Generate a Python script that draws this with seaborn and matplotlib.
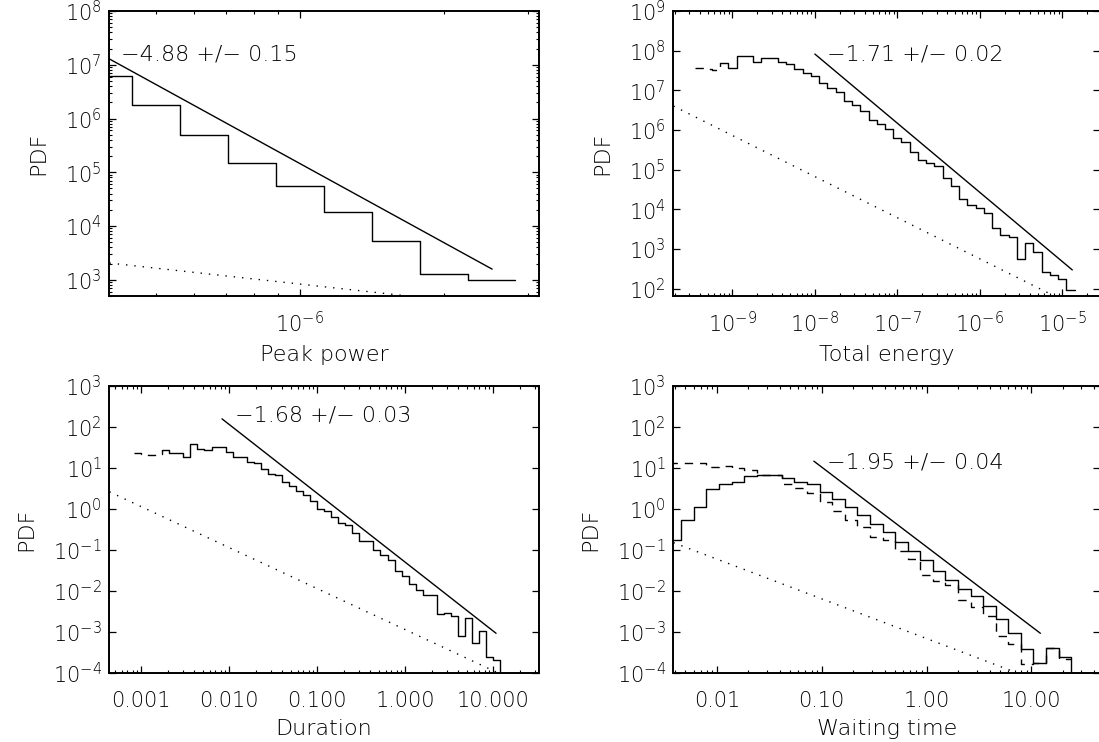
import numpy as np
import matplotlib
matplotlib.use("Agg")
import matplotlib.pyplot as plt
import matplotlib.ticker as mticker
import seaborn as sns

# ====================== data (log10 of bin edges / PDF values) ======================
# Peak power
peak_edges_log = [-6.45, -6.35, -6.25, -6.15, -6.05, -5.95, -5.85, -5.75, -5.65, -5.55]
peak_log_pdf = [6.79, 6.26, 5.69, 5.18, 4.745, 4.27, 3.73, 3.10, 3.0]
peak_fit_x = [4.0e-7, 2.52e-6]
peak_fit_y = [1.28e7, 1.58e3]
peak_ref_x = [4.0e-7, 1.75e-6]
peak_ref_y = [2.05e3, 4.8e2]

# Total energy (first 3 bins dashed)
energy_edges_log = [-9.45, -9.35, -9.25, -9.15, -9.05, -8.95, -8.85, -8.75, -8.65, -8.55,
                    -8.45, -8.35, -8.25, -8.15, -8.05, -7.95, -7.85, -7.75, -7.65, -7.55,
                    -7.45, -7.35, -7.25, -7.15, -7.05, -6.95, -6.85, -6.75, -6.65, -6.55,
                    -6.45, -6.35, -6.25, -6.15, -6.05, -5.95, -5.85, -5.75, -5.65, -5.55,
                    -5.45, -5.35, -5.25, -5.15, -5.05, -4.95, -4.85]
energy_log_pdf_low = [7.57, 7.53, 7.50]
energy_log_pdf = [7.68, 7.57, 7.87, 7.87, 7.72, 7.82, 7.81, 7.71, 7.66, 7.53,
                  7.43, 7.37, 7.18, 7.07, 6.95, 6.73, 6.63, 6.49, 6.25, 6.14,
                  6.03, 5.79, 5.69, 5.45, 5.24, 5.16, 5.08, 4.80, 4.59, 4.27,
                  4.11, 4.04, 3.90, 3.52, 3.34, 3.31, 2.74, 3.15, 2.93, 2.43,
                  2.35, 2.24, 1.97]
energy_fit_x = [1.0e-8, 1.32e-5]
energy_fit_y = [8.2e7, 2.95e2]
energy_ref_x = [1.93e-10, 1.0e-5]
energy_ref_y = [4.0e6, 51.5]

# Duration (first 4 bins dashed)
dur_edges_log = [-3.08, -3.00, -2.92, -2.84, -2.76, -2.68, -2.60, -2.52, -2.44, -2.36,
                 -2.28, -2.20, -2.12, -2.04, -1.96, -1.88, -1.80, -1.72, -1.64, -1.56,
                 -1.48, -1.40, -1.32, -1.24, -1.16, -1.08, -1.00, -0.92, -0.84, -0.76,
                 -0.68, -0.60, -0.52, -0.44, -0.36, -0.28, -0.20, -0.12, -0.04, 0.04,
                 0.12, 0.20, 0.28, 0.36, 0.44, 0.52, 0.60, 0.68, 0.76, 0.84,
                 0.92, 1.00, 1.08]
dur_log_pdf_low = [1.36, 1.34, 1.32, 1.35]
dur_log_pdf = [1.43, 1.37, 1.36, 1.26, 1.59, 1.47, 1.43, 1.51, 1.51, 1.39,
               1.28, 1.27, 1.15, 1.13, 0.98, 0.86, 0.83, 0.66, 0.56, 0.43,
               0.33, 0.19, 0.00, -0.055, -0.19, -0.34, -0.40, -0.58, -0.79, -0.79,
               -0.99, -1.12, -1.24, -1.52, -1.63, -1.83, -1.97, -2.09, -2.09, -2.57,
               -2.53, -2.60, -3.10, -2.66, -3.28, -2.98, -3.60, -3.68]
dur_fit_x = [8.3e-3, 10.8]
dur_fit_y = [158.0, 9.3e-4]
dur_ref_x = [4.37e-4, 12.6]
dur_ref_y = [2.62, 9.1e-5]

# Waiting time (solid and dashed histograms)
wait_edges_log = [-2.46, -2.34, -2.22, -2.10, -1.98, -1.86, -1.74, -1.62, -1.50, -1.38,
                  -1.26, -1.14, -1.02, -0.90, -0.78, -0.66, -0.54, -0.42, -0.30, -0.18,
                  -0.06, 0.06, 0.18, 0.30, 0.42, 0.54, 0.66, 0.78, 0.90, 1.02,
                  1.14, 1.26, 1.38]
wait_log_pdf = [-0.75, -0.28, 0.05, 0.49, 0.62, 0.66, 0.80, 0.83, 0.83, 0.75,
                0.66, 0.60, 0.41, 0.25, 0.05, -0.14, -0.36, -0.55, -0.81, -1.03,
                -1.25, -1.51, -1.74, -1.95, -2.12, -2.36, -2.68, -3.03, -3.42, -3.75,
                -3.38, -3.60]
wait_log_pdf_alt = [1.11, 1.11, 1.13, 1.03, 1.05, 1.01, 0.94, 0.84, 0.84, 0.62,
                    0.50, 0.40, 0.18, -0.05, -0.27, -0.44, -0.68, -0.75, -1.03, -1.22,
                    -1.60, -1.76, -1.85, -2.21, -2.40, -2.60, -3.10, -3.30, -3.79, -3.75,
                    -3.40, -3.67]
wait_fit_x = [0.0841, 12.2]
wait_fit_y = [14.7, 9.3e-4]
wait_ref_x = [3.85e-3, 7.94]
wait_ref_y = [0.151, 9.3e-5]

slope_texts = ["\u22124.88 +/\u2212 0.15", "\u22121.71 +/\u2212 0.02",
               "\u22121.68 +/\u2212 0.03", "\u22121.95 +/\u2212 0.04"]
x_titles = ["Peak power", "Total energy", "Duration", "Waiting time"]


def step_xy(edges_log, log_vals, next_val=None, drop=False):
    """build steps-post coordinates of a histogram"""
    x = list(10.0 ** np.asarray(edges_log))
    y = list(10.0 ** np.asarray(log_vals))
    y.append(10.0 ** next_val if next_val is not None else y[-1])
    if drop:
        x.append(x[-1])
        y.append(1e-9)
    return x, y


def line(ax, x, y, ls="-", steps=False):
    kw = dict(drawstyle="steps-post") if steps else {}
    sns.lineplot(x=x, y=y, ax=ax, color="black", linewidth=1.0, linestyle=ls,
                 estimator=None, sort=False, errorbar=None, **kw)


DOT = (0, (1, 5))
DASH = (0, (6, 5))

sns.set_theme(style="ticks")
plt.rcParams.update({
    "font.family": ["DejaVu Sans"],
    "font.weight": "light",
    "axes.labelweight": "light",
    "text.color": "black",
    "mathtext.default": "regular",
    "axes.unicode_minus": True,
    "axes.linewidth": 1.4,
    "axes.edgecolor": "black",
    "axes.labelcolor": "black",
    "xtick.color": "black",
    "ytick.color": "black",
    "xtick.labelcolor": "black",
    "ytick.labelcolor": "black",
    "xtick.direction": "in",
    "ytick.direction": "in",
    "xtick.top": True,
    "ytick.right": True,
    "xtick.major.size": 5,
    "ytick.major.size": 5,
    "xtick.minor.size": 2.5,
    "ytick.minor.size": 2.5,
    "xtick.major.width": 0.9,
    "ytick.major.width": 0.9,
    "xtick.minor.width": 0.8,
    "ytick.minor.width": 0.8,
    "xtick.labelsize": 15,
    "ytick.labelsize": 15,
    "axes.labelsize": 16,
})

fig = plt.figure(figsize=(10.99, 7.42), dpi=100)
ax1 = fig.add_axes([0.0996, 0.6011, 0.3904, 0.3841])
ax2 = fig.add_axes([0.6128, 0.6011, 0.3881, 0.3841])
ax3 = fig.add_axes([0.0996, 0.0930, 0.3904, 0.3868])
ax4 = fig.add_axes([0.6128, 0.0930, 0.3881, 0.3868])

for ax in (ax1, ax2, ax3, ax4):
    ax.set_xscale("log")
    ax.set_yscale("log")

# ---- Peak power ----
line(ax1, *step_xy(peak_edges_log, peak_log_pdf), steps=True)
line(ax1, peak_fit_x, peak_fit_y)
line(ax1, peak_ref_x, peak_ref_y, ls=DOT)
ax1.set_xlim(4.0e-7, 3.15e-6)
ax1.set_ylim(5e2, 1e8)

# ---- Total energy ----
n_low = len(energy_log_pdf_low)
line(ax2, *step_xy(energy_edges_log[:n_low + 1], energy_log_pdf_low,
                   next_val=energy_log_pdf[0]), ls=DASH, steps=True)
line(ax2, *step_xy(energy_edges_log[n_low:], energy_log_pdf), steps=True)
line(ax2, energy_fit_x, energy_fit_y)
line(ax2, energy_ref_x, energy_ref_y, ls=DOT)
ax2.set_xlim(1.93e-10, 2.86e-5)
ax2.set_ylim(65, 1e9)

# ---- Duration ----
n_low = len(dur_log_pdf_low)
line(ax3, *step_xy(dur_edges_log[:n_low + 1], dur_log_pdf_low,
                   next_val=dur_log_pdf[0]), ls=DASH, steps=True)
line(ax3, *step_xy(dur_edges_log[n_low:], dur_log_pdf, drop=True), steps=True)
line(ax3, dur_fit_x, dur_fit_y)
line(ax3, dur_ref_x, dur_ref_y, ls=DOT)
ax3.set_xlim(4.37e-4, 32.8)
ax3.set_ylim(1e-4, 1e3)

# ---- Waiting time ----
line(ax4, *step_xy(wait_edges_log, wait_log_pdf_alt), ls=DASH, steps=True)
line(ax4, *step_xy(wait_edges_log, wait_log_pdf, drop=True), steps=True)
line(ax4, wait_fit_x, wait_fit_y)
line(ax4, wait_ref_x, wait_ref_y, ls=DOT)
ax4.set_xlim(3.85e-3, 45.2)
ax4.set_ylim(1e-4, 1e3)

# ---- axes decoration ----
text_pos = [(0.027, 0.828), (0.36, 0.828), (0.2925, 0.878), (0.36, 0.714)]
for i, ax in enumerate((ax1, ax2, ax3, ax4)):
    ax.xaxis.set_major_locator(mticker.LogLocator(base=10, numticks=30))
    ax.xaxis.set_minor_locator(mticker.LogLocator(base=10, subs=np.arange(2, 10), numticks=30))
    ax.xaxis.set_minor_formatter(mticker.NullFormatter())
    ax.yaxis.set_major_locator(mticker.LogLocator(base=10, numticks=30))
    ax.yaxis.set_minor_formatter(mticker.NullFormatter())
    if ax is ax1:
        ax.yaxis.set_minor_locator(mticker.LogLocator(base=10, subs=np.arange(2, 10), numticks=30))
    else:
        ax.yaxis.set_minor_locator(mticker.NullLocator())
    for side in ("top", "right", "left", "bottom"):
        ax.spines[side].set_visible(True)
    ax.tick_params(axis="y", which="both", pad=5.5)
    ax.tick_params(axis="x", which="both", pad=11 if i < 2 else 13)
    ax.set_xlabel(x_titles[i], labelpad=6, color="black", fontweight="light")
    ax.set_ylabel("PDF", labelpad=12, color="black", fontweight="light")
    ax.text(text_pos[i][0], text_pos[i][1], slope_texts[i], transform=ax.transAxes,
            ha="left", va="baseline", fontsize=16, color="black", fontweight="light")

ax3.xaxis.set_major_formatter(mticker.FormatStrFormatter("%.3f"))
ax4.xaxis.set_major_formatter(mticker.FormatStrFormatter("%.2f"))

fig.savefig("out.png", dpi=100, facecolor="white")
plt.close(fig)
